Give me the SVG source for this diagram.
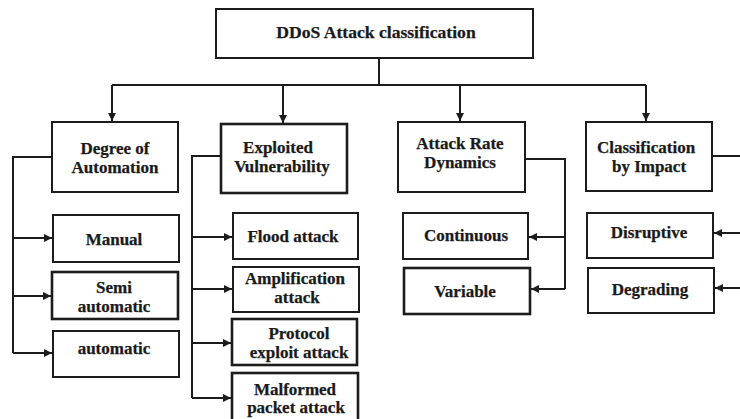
<svg xmlns="http://www.w3.org/2000/svg" width="740" height="419" viewBox="0 0 740 419">
  <style>
    .box { fill: #ffffff; stroke: #1c1c1c; stroke-width: 2; }
    .box.thick { stroke-width: 2.6; }
    .lbl { font-family: 'Liberation Serif', 'DejaVu Serif', serif; font-weight: bold; font-size: 17px; fill: #1a1a1a; stroke: #1a1a1a; stroke-width: 0.25; text-anchor: middle; }
    .title { font-size: 17.6px; }
    .wire { fill: none; stroke: #1c1c1c; stroke-width: 2; }
  </style>
  <defs>
    <marker id="head" viewBox="0 0 10 10" refX="10" refY="5" markerWidth="10" markerHeight="8" markerUnits="userSpaceOnUse" orient="auto">
      <path d="M0,0 L10,5 L0,10 Z" fill="#1c1c1c"/>
    </marker>
  </defs>
  <rect width="740" height="419" fill="#ffffff"/>

  <!-- connectors -->
  <g id="connectors">
    <path class="wire" d="M379,58 V85"/>
    <path class="wire" d="M112,85 H646"/>
    <path class="wire" d="M112,85 V121" marker-end="url(#head)"/>
    <path class="wire" d="M283,85 V123" marker-end="url(#head)"/>
    <path class="wire" d="M460,85 V121" marker-end="url(#head)"/>
    <path class="wire" d="M646,85 V121" marker-end="url(#head)"/>

    <!-- Degree of Automation branches -->
    <path class="wire" d="M52,157 H13 V353"/>
    <path class="wire" d="M13,238 H52" marker-end="url(#head)"/>
    <path class="wire" d="M13,296 H51" marker-end="url(#head)"/>
    <path class="wire" d="M13,353 H52" marker-end="url(#head)"/>

    <!-- Exploited Vulnerability branches -->
    <path class="wire" d="M221,156 H192 V398"/>
    <path class="wire" d="M192,237 H232" marker-end="url(#head)"/>
    <path class="wire" d="M192,289 H232" marker-end="url(#head)"/>
    <path class="wire" d="M192,343 H231" marker-end="url(#head)"/>
    <path class="wire" d="M192,398 H231" marker-end="url(#head)"/>

    <!-- Attack Rate Dynamics branches -->
    <path class="wire" d="M525,159 H565 V289"/>
    <path class="wire" d="M565,237 H529" marker-end="url(#head)"/>
    <path class="wire" d="M565,289 H531" marker-end="url(#head)"/>

    <!-- Classification by Impact branches -->
    <path class="wire" d="M712,156 H741"/>
    <path class="wire" d="M741,233 H714" marker-end="url(#head)"/>
    <path class="wire" d="M741,288 H715" marker-end="url(#head)"/>
  </g>

  <g id="root">
    <rect class="box" x="216" y="9" width="317" height="49"/>
    <text class="lbl title" x="376" y="38">DDoS Attack classification</text>
  </g>

  <g id="degree-of-automation">
    <rect class="box" x="52" y="122" width="126" height="70"/>
    <text class="lbl" x="115" y="154">Degree of</text>
    <text class="lbl" x="115" y="173">Automation</text>
  </g>
  <g id="manual">
    <rect class="box" x="53" y="215" width="126" height="47"/>
    <text class="lbl" x="114" y="245">Manual</text>
  </g>
  <g id="semi-automatic">
    <rect class="box thick" x="52" y="272" width="126" height="47"/>
    <text class="lbl" x="114" y="293">Semi</text>
    <text class="lbl" x="114" y="312">automatic</text>
  </g>
  <g id="automatic">
    <rect class="box" x="53" y="331" width="126" height="46"/>
    <text class="lbl" x="114" y="354">automatic</text>
  </g>

  <g id="exploited-vulnerability">
    <rect class="box thick" x="221" y="124" width="126" height="69"/>
    <text class="lbl" x="278" y="153">Exploited</text>
    <text class="lbl" x="282" y="172">Vulnerability</text>
  </g>
  <g id="flood-attack">
    <rect class="box" x="233" y="213" width="125" height="46"/>
    <text class="lbl" x="293" y="242">Flood attack</text>
  </g>
  <g id="amplification-attack">
    <rect class="box" x="233" y="267" width="126" height="45"/>
    <text class="lbl" x="295" y="284">Amplification</text>
    <text class="lbl" x="297" y="303">attack</text>
  </g>
  <g id="protocol-exploit-attack">
    <rect class="box thick" x="232" y="319" width="125" height="46"/>
    <text class="lbl" x="299" y="339">Protocol</text>
    <text class="lbl" x="299" y="358">exploit attack</text>
  </g>
  <g id="malformed-packet-attack">
    <rect class="box thick" x="232" y="373" width="126" height="52"/>
    <text class="lbl" x="295" y="395">Malformed</text>
    <text class="lbl" x="296" y="413">packet attack</text>
  </g>

  <g id="attack-rate-dynamics">
    <rect class="box" x="398" y="122" width="127" height="70"/>
    <text class="lbl" x="460" y="149">Attack Rate</text>
    <text class="lbl" x="460" y="168">Dynamics</text>
  </g>
  <g id="continuous">
    <rect class="box" x="403" y="213" width="125" height="46"/>
    <text class="lbl" x="466" y="241">Continuous</text>
  </g>
  <g id="variable">
    <rect class="box thick" x="404" y="268" width="126" height="46"/>
    <text class="lbl" x="465" y="297">Variable</text>
  </g>

  <g id="classification-by-impact">
    <rect class="box" x="586" y="122" width="126" height="69"/>
    <text class="lbl" x="646" y="153">Classification</text>
    <text class="lbl" x="649" y="172">by Impact</text>
  </g>
  <g id="disruptive">
    <rect class="box" x="587" y="213" width="126" height="45"/>
    <text class="lbl" x="649" y="238">Disruptive</text>
  </g>
  <g id="degrading">
    <rect class="box" x="588" y="268" width="126" height="45"/>
    <text class="lbl" x="650" y="295">Degrading</text>
  </g>
</svg>
